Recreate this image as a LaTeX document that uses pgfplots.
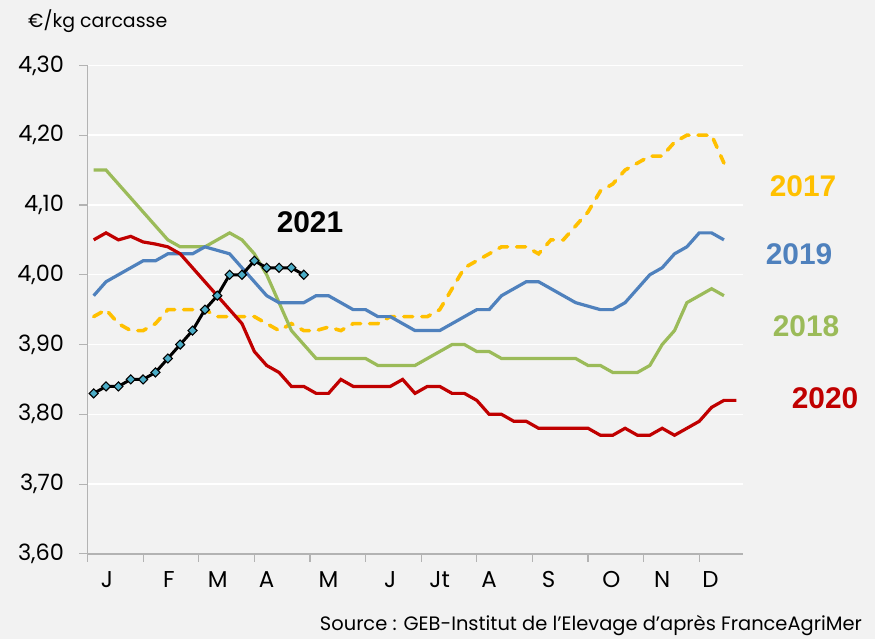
\documentclass[border=0pt]{standalone}
\usepackage{fontspec}
\setmainfont{Poppins}
\newfontfamily\yearfont{Liberation Sans}
\usepackage{pgfplots}
\pgfplotsset{compat=1.18}
\usepackage{pgfplotstable}

\definecolor{bg}{HTML}{F2F2F2}
\definecolor{axisgray}{HTML}{B3B3B3}
\definecolor{c17}{HTML}{FFC000}
\definecolor{c18}{HTML}{9BBB59}
\definecolor{c19}{HTML}{4F81BD}
\definecolor{c20}{HTML}{C00000}
\definecolor{c21m}{HTML}{4BACC6}

\pgfplotstableread{
w v
1 3.94
2 3.95
3 3.93
4 3.92
5 3.92
6 3.93
7 3.95
8 3.95
9 3.95
10 3.95
11 3.94
12 3.94
13 3.94
14 3.94
15 3.93
16 3.92
17 3.93
18 3.92
19 3.92
20 3.925
21 3.92
22 3.93
23 3.93
24 3.93
25 3.94
26 3.94
27 3.94
28 3.94
29 3.95
30 3.98
31 4.01
32 4.02
33 4.03
34 4.04
35 4.04
36 4.04
37 4.03
38 4.05
39 4.05
40 4.07
41 4.09
42 4.12
43 4.13
44 4.15
45 4.16
46 4.17
47 4.17
48 4.19
49 4.20
50 4.20
51 4.20
52 4.16
}\tabA

\pgfplotstableread{
w v
1 4.15
2 4.15
3 4.13
4 4.11
5 4.09
6 4.07
7 4.05
8 4.04
9 4.04
10 4.04
11 4.05
12 4.06
13 4.05
14 4.03
15 4.00
16 3.96
17 3.92
18 3.90
19 3.88
20 3.88
21 3.88
22 3.88
23 3.88
24 3.87
25 3.87
26 3.87
27 3.87
28 3.88
29 3.89
30 3.90
31 3.90
32 3.89
33 3.89
34 3.88
35 3.88
36 3.88
37 3.88
38 3.88
39 3.88
40 3.88
41 3.87
42 3.87
43 3.86
44 3.86
45 3.86
46 3.87
47 3.90
48 3.92
49 3.96
50 3.97
51 3.98
52 3.97
}\tabB

\pgfplotstableread{
w v
1 3.97
2 3.99
3 4.00
4 4.01
5 4.02
6 4.02
7 4.03
8 4.03
9 4.03
10 4.04
11 4.035
12 4.03
13 4.01
14 3.99
15 3.97
16 3.96
17 3.96
18 3.96
19 3.97
20 3.97
21 3.96
22 3.95
23 3.95
24 3.94
25 3.94
26 3.93
27 3.92
28 3.92
29 3.92
30 3.93
31 3.94
32 3.95
33 3.95
34 3.97
35 3.98
36 3.99
37 3.99
38 3.98
39 3.97
40 3.96
41 3.955
42 3.95
43 3.95
44 3.96
45 3.98
46 4.00
47 4.01
48 4.03
49 4.04
50 4.06
51 4.06
52 4.05
}\tabC

\pgfplotstableread{
w v
1 4.05
2 4.06
3 4.05
4 4.055
5 4.047
6 4.044
7 4.04
8 4.03
9 4.01
10 3.99
11 3.97
12 3.95
13 3.93
14 3.89
15 3.87
16 3.86
17 3.84
18 3.84
19 3.83
20 3.83
21 3.85
22 3.84
23 3.84
24 3.84
25 3.84
26 3.85
27 3.83
28 3.84
29 3.84
30 3.83
31 3.83
32 3.82
33 3.80
34 3.80
35 3.79
36 3.79
37 3.78
38 3.78
39 3.78
40 3.78
41 3.78
42 3.77
43 3.77
44 3.78
45 3.77
46 3.77
47 3.78
48 3.77
49 3.78
50 3.79
51 3.81
52 3.82
53 3.82
}\tabD

\pgfplotstableread{
w v
1 3.83
2 3.84
3 3.84
4 3.85
5 3.85
6 3.86
7 3.88
8 3.90
9 3.92
10 3.95
11 3.97
12 4.00
13 4.00
14 4.02
15 4.01
16 4.01
17 4.01
18 4.00
}\tabE

\begin{document}
\begin{tikzpicture}
\fill[bg] (0,0) rectangle (875bp,639bp);
\useasboundingbox (0,0) rectangle (875bp,639bp);
\begin{axis}[
  at={(87.5bp,85.1bp)}, anchor=south west,
  scale only axis, width=655bp, height=488.5bp,
  xmin=0.5, xmax=53.5, ymin=3.6, ymax=4.3,
  axis x line*=bottom, axis y line*=left,
  axis line style={axisgray, line width=1.3bp},
  ytick={3.6,3.7,3.8,3.9,4.0,4.1,4.2,4.3},
  /pgf/number format/use comma,
  /pgf/number format/fixed,
  /pgf/number format/fixed zerofill,
  /pgf/number format/precision=2,
  /pgf/number format/assume math mode=true,
  yticklabel style={font=\fontsize{22.5}{27}\selectfont, anchor=east, xshift=-12bp},
  ymajorgrids, major grid style={white, line width=1.4bp},
  xtick={2.07,7.08,11.03,15,20,25,29,33,37.8,42.9,47,50.9},
  xticklabels={J,F,M,A,M,J,Jt,A,S,O,N,D},
  xticklabel style={font=\fontsize{23}{28}\selectfont, anchor=north, yshift=-6bp},
  major x tick style={draw=none},
  minor xtick={0.5,5,9.5,14,18.5,23,27.5,32,36.5,41,45.5,50},
  minor x tick style={axisgray, line width=1.2bp},
  ytick style={axisgray, line width=1.2bp},
  major tick length=8bp, minor tick length=8bp, tick align=outside,
  clip=false,
]
\addplot[c17, line width=3.6bp, dash pattern=on 9bp off 9bp, line cap=round] table[x=w,y=v]{\tabA};
\addplot[c18, line width=3.2bp] table[x=w,y=v]{\tabB};
\addplot[c19, line width=3.2bp] table[x=w,y=v]{\tabC};
\addplot[c20, line width=3.2bp] table[x=w,y=v]{\tabD};
\addplot[black, line width=3bp, mark=square*, mark size=3.2bp, mark options={fill=c21m, draw=black, line width=1.1bp, rotate=45}] table[x=w,y=v]{\tabE};
\end{axis}
\node[font=\fontsize{19}{23}\selectfont, anchor=base west, inner sep=0] at (28bp,611bp) {€/kg carcasse};
\node[font=\fontsize{19.5}{23}\selectfont, anchor=base east, inner sep=0] at (862bp,8.5bp) {Source : GEB-Institut de l'Elevage d'après FranceAgriMer};
\node[font=\yearfont\bfseries\fontsize{30}{34}\selectfont, text=c17] at (803bp,453bp) {2017};
\node[font=\yearfont\bfseries\fontsize{30}{34}\selectfont, text=c19] at (799bp,385bp) {2019};
\node[font=\yearfont\bfseries\fontsize{30}{34}\selectfont, text=c18] at (806bp,313bp) {2018};
\node[font=\yearfont\bfseries\fontsize{30}{34}\selectfont, text=c20] at (825bp,241bp) {2020};
\node[font=\yearfont\bfseries\fontsize{30}{34}\selectfont, text=black] at (310bp,417bp) {2021};
\end{tikzpicture}
\end{document}
